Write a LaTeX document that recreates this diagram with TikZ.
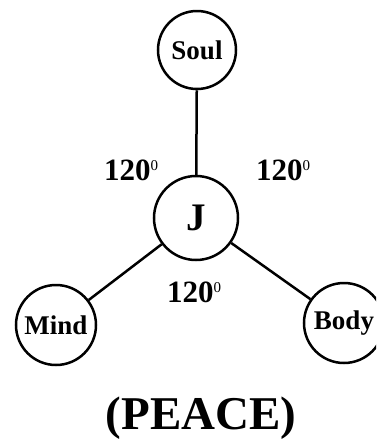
\documentclass[tikz,border=0pt]{standalone}
\usepackage{fontspec}
\setmainfont{Liberation Serif}
\newcommand{\degsup}{\raisebox{10pt}{\normalfont\fontsize{15}{15}\selectfont 0}}
\begin{document}
\begin{tikzpicture}[x=1pt,y=-1pt,
  ball/.style={circle,draw=black,line width=2.5pt,minimum size=#1,inner sep=0pt,font=\bfseries\fontsize{27}{27}\selectfont},
  conn/.style={line width=2.5pt},
  ang/.style={inner sep=0pt,anchor=west,font=\bfseries\fontsize{31}{31}\selectfont}]
\useasboundingbox (0,0) rectangle (376,440);
\begin{scope}
\clip (0,0) rectangle (376,440);
\node[ball=78pt] (soul) at (197,50) {Soul};
\node[ball=84pt,font=\bfseries\fontsize{39}{39}\selectfont] (j) at (196,218) {J};
\node[ball=80pt] (mind) at (56,325) {Mind};
\node[ball=80pt] (body) at (344,323) {Body};
\draw[conn] (soul) -- (j);
\draw[conn] (j) -- (mind);
\draw[conn] (j) -- (body);
\end{scope}
\node[ang] (a1) at (104,170) {120\degsup};
\node[ang] (a2) at (256,170) {120\degsup};
\node[ang] (a3) at (167,292) {120\degsup};
\node[inner sep=0pt,font=\bfseries\fontsize{47}{47}\selectfont] (peace) at (201,418) {(PEACE)};
\end{tikzpicture}
\end{document}
